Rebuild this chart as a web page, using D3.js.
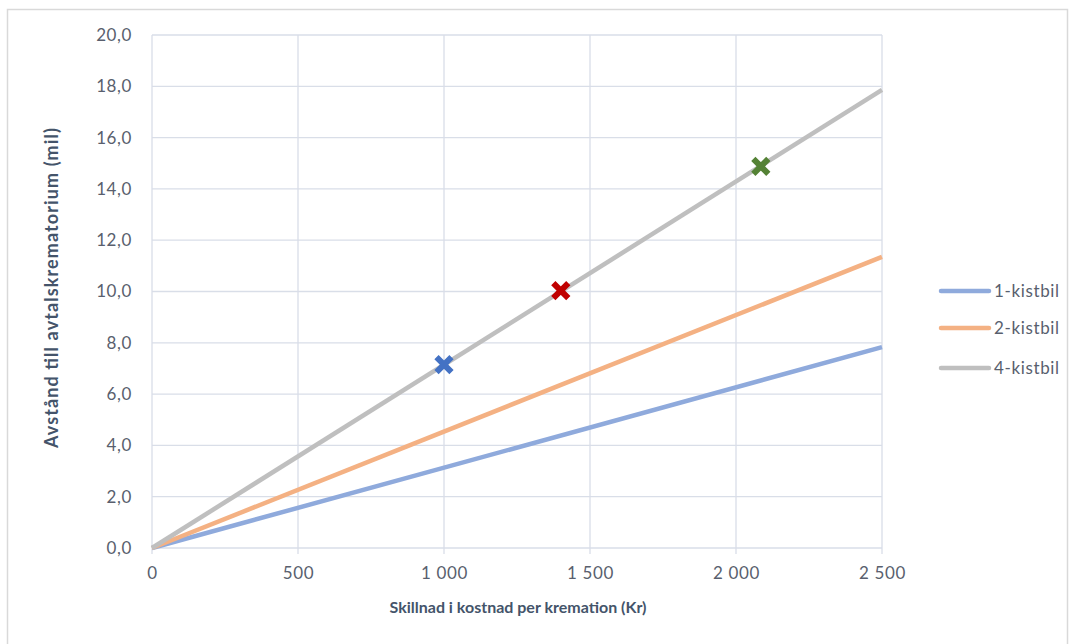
<!DOCTYPE html>
<html><head><meta charset="utf-8">
<script src="https://cdn.jsdelivr.net/npm/d3@7"></script>
<style>body{margin:0;background:#fff}svg{display:block}text{font-family:Lato,"Open Sans",sans-serif}</style>
</head><body><svg id="c" width="1075" height="644"></svg>
<script>
const seriesNames = ["1-kistbil","2-kistbil","4-kistbil"];
const seriesColors = ["#8FAADC","#F4B183","#BFBFBF"];
const xValues = [0, 2500];
const series1 = [0, 7.83];
const series2 = [0, 11.35];
const series4 = [0, 17.86];
const markerX = [1000, 1400, 2085];
const markerY = [7.15, 10.03, 14.88];
const markerColors = ["#4472C4","#C00000","#548235"];
const xTicks = [0,500,1000,1500,2000,2500];
const yTicks = [0,2,4,6,8,10,12,14,16,18,20];

const svg = d3.select("#c");
svg.append("rect").attr("x",7.5).attr("y",9.5).attr("width",1060).attr("height",640).attr("fill","#fff").attr("stroke","#D9D9D9").attr("stroke-width",1.5);

const x = d3.scaleLinear().domain([0,2500]).range([152,882]);
const y = d3.scaleLinear().domain([0,20]).range([548,35]);
const grid="#D9DEE8", txt="#595F6E";
const fmtX = d => d3.format(",")(d).replace(",", "\u00a0");
const fmtY = d => d.toFixed(1).replace(".", ",");

const g = svg.append("g");
yTicks.forEach(t=>g.append("line").attr("x1",x(0)).attr("x2",x(2500)).attr("y1",y(t)).attr("y2",y(t)).attr("stroke",grid).attr("stroke-width",1.3));
xTicks.forEach(t=>g.append("line").attr("x1",x(t)).attr("x2",x(t)).attr("y1",y(20)).attr("y2",y(0)+6).attr("stroke",grid).attr("stroke-width",1.3));

const yAxis = svg.append("g").attr("transform",`translate(${x(0)},0)`).call(d3.axisLeft(y).tickValues(yTicks).tickFormat(fmtY).tickSize(0).tickPadding(20));
yAxis.select(".domain").remove();
yAxis.selectAll("text").attr("fill",txt).style("font-size","17px").style("letter-spacing","0.6px");
const xAxis = svg.append("g").attr("transform",`translate(0,${y(0)})`).call(d3.axisBottom(x).tickValues(xTicks).tickFormat(fmtX).tickSize(0).tickPadding(19));
xAxis.select(".domain").remove();
xAxis.selectAll("text").attr("fill",txt).style("font-size","17px").style("letter-spacing","0.6px");

const line = d3.line().x((d,i)=>x(xValues[i])).y(d=>y(d));
[series1,series2,series4].forEach((s,i)=>{
  svg.append("path").attr("d",line(s)).attr("fill","none").attr("stroke",seriesColors[i]).attr("stroke-width",4.5);
});

markerX.forEach((mx,i)=>{
  const cx=x(mx), cy=y(markerY[i]), r=7.5;
  svg.append("path").attr("d",`M${cx-r},${cy-r}L${cx+r},${cy+r}M${cx-r},${cy+r}L${cx+r},${cy-r}`).attr("stroke",markerColors[i]).attr("stroke-width",6);
});

seriesNames.forEach((n,i)=>{
  const ly=[291,328,368][i];
  svg.append("line").attr("x1",941).attr("x2",989).attr("y1",ly).attr("y2",ly).attr("stroke",seriesColors[i]).attr("stroke-width",4.5).attr("stroke-linecap","round");
  svg.append("text").attr("x",994).attr("y",ly+6).attr("fill",txt).style("font-size","17px").attr("textLength",65).attr("lengthAdjust","spacing").text(n);
});

svg.append("text").attr("x",518).attr("y",613).attr("text-anchor","middle").attr("fill","#44546A").style("font-size","16px").style("font-weight","bold").text("Skillnad i kostnad per kremation (Kr)");
svg.append("text").attr("transform","translate(58,288) rotate(-90)").attr("text-anchor","middle").attr("fill","#44546A").style("font-size","18px").style("font-weight","bold").attr("textLength",320).attr("lengthAdjust","spacing").text("Avstånd till avtalskrematorium (mil)");
</script></body></html>
